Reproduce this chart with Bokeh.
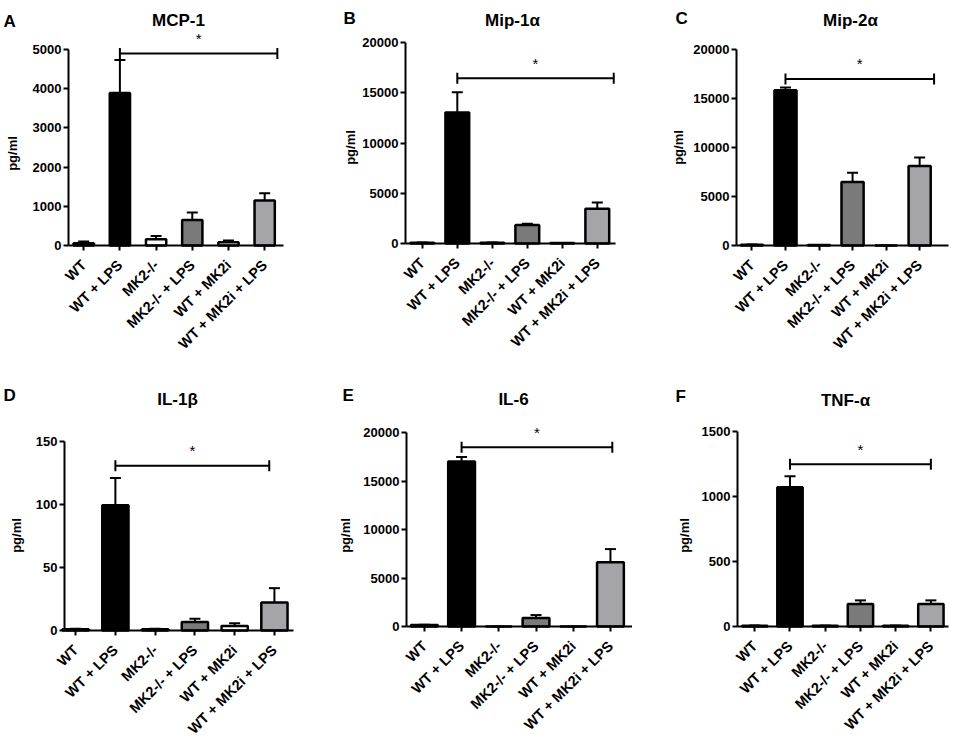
import math
from bokeh.plotting import figure
from bokeh.models import Range1d, FixedTicker, Label, ColumnDataSource
from bokeh.layouts import row, column
from bokeh.embed import file_html
from bokeh.resources import INLINE
from bokeh.core.properties import value

# ---------------- data ----------------
groups = ["WT", "WT + LPS", "MK2-/-", "MK2-/- + LPS", "WT + MK2i", "WT + MK2i + LPS"]
bar_colors = ["#ffffff", "#000000", "#ffffff", "#7a7a7a", "#ffffff", "#a4a4a9"]

titles = ["MCP-1", "Mip-1\u03b1", "Mip-2\u03b1", "IL-1\u03b2", "IL-6", "TNF-\u03b1"]
letters = ["A", "B", "C", "D", "E", "F"]

mcp1_mean = [60, 3890, 160, 650, 80, 1150]
mcp1_sem = [40, 840, 80, 190, 50, 180]
mip1a_mean = [80, 13040, 80, 1850, 40, 3450]
mip1a_sem = [20, 2000, 20, 120, 10, 620]
mip2a_mean = [80, 15840, 50, 6470, 0, 8110]
mip2a_sem = [20, 280, 10, 950, 0, 880]
il1b_mean = [1.0, 99.5, 1.0, 6.7, 3.6, 22.3]
il1b_sem = [0.3, 21.5, 0.3, 2.6, 2.1, 11.3]
il6_mean = [150, 17000, 0, 880, 0, 6630]
il6_sem = [30, 470, 0, 300, 0, 1350]
tnfa_mean = [5, 1072, 5, 173, 5, 173]
tnfa_sem = [2, 84, 2, 28, 2, 28]

y_ticks = [
    [0, 1000, 2000, 3000, 4000, 5000],
    [0, 5000, 10000, 15000, 20000],
    [0, 5000, 10000, 15000, 20000],
    [0, 50, 100, 150],
    [0, 5000, 10000, 15000, 20000],
    [0, 500, 1000, 1500],
]
y_label = "pg/ml"

# significance bracket (WT + LPS vs ...), with "*"
bracket_y = [4900, 16440, 17000, 130.8, 18490, 1249]
bracket_x_start = [1, 1, 1, 1, 1, 1]
bracket_x_end = [5.35, 5.47, 5.43, 4.87, 5.05, 5.0]

means = [mcp1_mean, mip1a_mean, mip2a_mean, il1b_mean, il6_mean, tnfa_mean]
sems = [mcp1_sem, mip1a_sem, mip2a_sem, il1b_sem, il6_sem, tnfa_sem]

# ---------------- layout (pixels inside each figure) ----------------
FONT = "Liberation Sans"
LAYOUT = [
    dict(w=316, h=376, left=68, fw=215, y0=245, yt=49, xr=(-0.42, 5.52), bw=0.56,
         letter=(3, 21), title=(178, 20), ylab=(12, 153)),
    dict(w=316, h=376, left=89, fw=210, y0=243, yt=42, xr=(-0.48, 5.52), bw=0.68,
         letter=(27, 18), title=(196, 20), ylab=(34, 147)),
    dict(w=317, h=376, left=104, fw=212, y0=245, yt=49, xr=(-0.46, 5.86), bw=0.66,
         letter=(43, 18), title=(218, 20), ylab=(46, 147)),
    dict(w=316, h=360, left=64, fw=229, y0=254, yt=65, xr=(-0.28, 5.48), bw=0.66,
         letter=(3, 19), title=(177, 23), ylab=(16, 159)),
    dict(w=316, h=360, left=90, fw=230, y0=250, yt=56, xr=(-0.48, 5.7), bw=0.72,
         letter=(26, 19), title=(197, 23), ylab=(29, 159)),
    dict(w=317, h=360, left=105, fw=211, y0=250, yt=55, xr=(-0.49, 5.5), bw=0.72,
         letter=(43, 20), title=(213, 24), ylab=(52, 159)),
]


def make_panel(i):
    L = LAYOUT[i]
    ticks = y_ticks[i]
    ytop = ticks[-1]
    xr0, xr1 = L["xr"]
    sp = L["fw"] / (xr1 - xr0)
    x_start = xr0 - L["left"] / sp
    x_end = xr1 + (L["w"] - L["left"] - L["fw"]) / sp
    ypp = ytop / (L["y0"] - L["yt"])
    y_start = -(L["h"] - L["y0"]) * ypp
    y_end = L["y0"] * ypp
    p = figure(
        width=L["w"], height=L["h"],
        x_range=Range1d(x_start, x_end), y_range=Range1d(y_start, y_end),
        output_backend="svg", toolbar_location=None, tools="",
        min_border_left=0, min_border_right=0, min_border_top=0, min_border_bottom=0,
    )
    p.outline_line_color = None
    p.grid.visible = False
    p.background_fill_color = "white"
    p.border_fill_color = "white"

    xs = list(range(len(groups)))
    m = means[i]
    s = sems[i]
    tops = [a + b for a, b in zip(m, s)]
    src = ColumnDataSource(dict(x=xs, top=m, etop=tops, color=bar_colors))

    p.segment(x0="x", y0="top", x1="x", y1="etop", source=src,
              line_color="black", line_width=2)
    p.scatter(x="x", y="etop", source=src, marker="dash", size=11,
              line_color="black", line_width=2)
    p.vbar(x="x", top="top", bottom=0, width=L["bw"], source=src,
           fill_color="color", line_color="black", line_width=2.5)

    # significance bracket
    bx = [bracket_x_start[i], bracket_x_end[i]]
    by = [bracket_y[i], bracket_y[i]]
    p.line(bx, by, line_color="black", line_width=2)
    p.scatter(bx, by, marker="dash", angle=math.pi / 2, size=11,
              line_color="black", line_width=2)
    p.text(x=[(bx[0] + bx[1]) / 2], y=[bracket_y[i]], text=["*"],
           text_align="center", text_baseline="middle", y_offset=-15,
           text_font=value(FONT), text_font_size="15px", text_color="black")

    # axes, fixed at the data origin
    ax = p.xaxis[0]
    ax.fixed_location = 0
    ax.bounds = (xr0, xr1)
    ax.ticker = FixedTicker(ticks=xs)
    ax.major_label_overrides = {k: g for k, g in zip(xs, groups)}
    ax.major_label_orientation = math.pi / 4
    ax.minor_tick_line_color = None
    ay = p.yaxis[0]
    ay.fixed_location = xr0
    ay.ticker = FixedTicker(ticks=ticks)
    ay.bounds = (0, ytop)
    ay.minor_tick_line_color = None
    for a in (ax, ay):
        a.axis_line_width = 2
        a.axis_line_color = "black"
        a.major_tick_line_width = 2
        a.major_tick_line_color = "black"
        a.major_tick_in = 0
        a.major_tick_out = 5
        a.major_label_text_font = FONT
        a.major_label_text_font_style = "bold"
        a.major_label_text_color = "black"
    ax.major_label_text_font_size = "14.5px"
    ax.major_label_standoff = 12
    ay.major_label_text_font_size = "13px"
    ay.major_label_standoff = 2

    # texts
    lx, ly = L["letter"]
    p.add_layout(Label(x=lx, y=ly, x_units="canvas", y_units="canvas", text=letters[i],
                       text_font=FONT, text_font_style="bold", text_font_size="17px",
                       text_align="left", text_baseline="alphabetic", text_color="black"))
    tx, ty = L["title"]
    p.add_layout(Label(x=tx, y=ty, x_units="canvas", y_units="canvas", text=titles[i],
                       text_font=FONT, text_font_style="bold", text_font_size="17px",
                       text_align="center", text_baseline="alphabetic", text_color="black"))
    yx, yy = L["ylab"]
    p.add_layout(Label(x=yx, y=yy, x_units="canvas", y_units="canvas", text=y_label,
                       angle=math.pi / 2, text_font=FONT, text_font_style="bold",
                       text_font_size="13px", text_align="center", text_baseline="middle",
                       text_color="black"))
    return p


panels = [make_panel(i) for i in range(6)]
layout = column(row(*panels[:3]), row(*panels[3:]))

open("out.html", "w").write(file_html(layout, INLINE))
